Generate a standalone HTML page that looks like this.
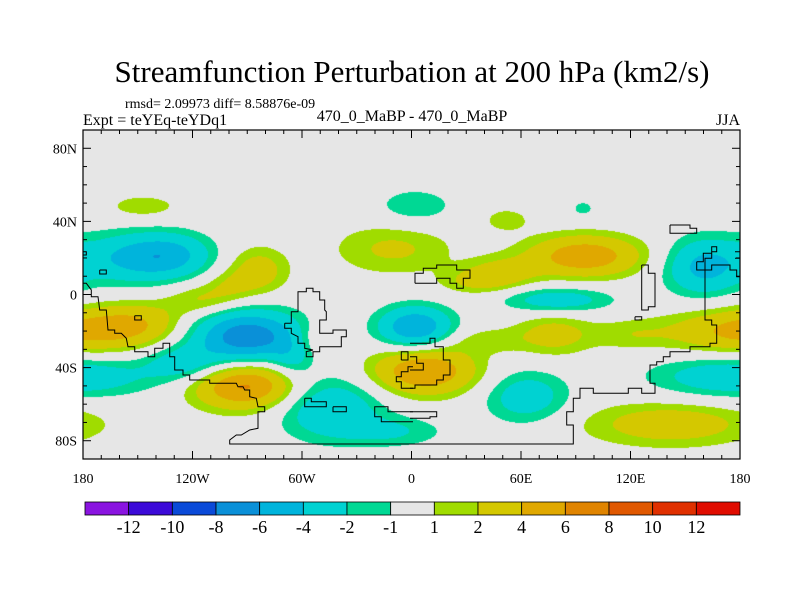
<!DOCTYPE html>
<html><head><meta charset="utf-8"><style>
html,body{margin:0;padding:0;background:#fff;width:800px;height:600px;overflow:hidden}
#wrap{position:relative;width:800px;height:600px}
canvas{position:absolute;left:83px;top:130px}
svg{position:absolute;left:0;top:0}
text{font-family:"Liberation Serif",serif;fill:#000}
</style></head><body><div id="wrap">
<canvas id="field" width="657" height="329"></canvas>
<svg id="svg" width="800" height="600">
<text x="412" y="82" font-size="31" text-anchor="middle">Streamfunction Perturbation at 200 hPa (km2/s)</text>
<text x="125" y="108" font-size="14">rmsd= 2.09973 diff= 8.58876e-09</text>
<text x="83" y="125" font-size="16">Expt = teYEq-teYDq1</text>
<text x="412" y="121" font-size="16" text-anchor="middle">470_0_MaBP - 470_0_MaBP</text>
<text x="740" y="125" font-size="16" text-anchor="end">JJA</text>
<g id="coast"></g>
<g id="axes"></g>
<g id="cbar"></g>
</svg></div>
<script>
// Contour levels and colors
const levels = [-12,-10,-8,-6,-4,-2,-1,1,2,4,6,8,10,12];
const colors = ['#8a14e0','#3c0ad8','#0a4ad8','#0a90d8','#00b4dc','#00d2d2','#00d894','#e6e6e6','#a0dc00','#d4c800','#e0a800','#e08400','#e05800','#e03000','#e00c00'];
// Anomaly centres: lon, lat, amplitude, lon-width, lat-width
const cLon = [-147,-150,160,-84,-115,180,-90,175,-91,-45,-10,-65,-54,-10,2,2,7,52,94,95,35,80,78,40,63,142,-130,-125,-150,-100,50,120];
const cLat = [48,20,15,13,-3,-20,-23,-45,-50,-62,-75,-35,-25,25,48,-18,-42,41,47,21,7,-3,-22,-25,-56,-71,22,-38,-15,5,12,-22];
const cAmp = [1.6,-4.5,-4.5,3,2.2,4.5,-7.5,-3.5,6.5,-3.8,-2,-2,1.6,2.3,-1.8,-6,6,1.5,-1.3,5.5,2,-3.2,2.8,1.5,-3.2,3.2,-2.5,-3,2.5,1.5,2.5,1.5];
const cSLon = [15.5,22,15,11.5,14,28,21,30,20,20,20,8,9,23,16,14,20,10,6,22,14,21,15,15,16,33,15,15,18,10,14,15];
const cSLat = [5.2,9.7,11,9,6,8.6,10,8,9,12,6,8,7,10,7.5,8,9,5,4,8,5,5,8,5,10,8.5,8,7,8,6,6,6];
const lonTicks = ['180','120W','60W','0','60E','120E','180'];
const latTicks = ['80N','40N','0','40S','80S'];

const X0=83,Y0=130,W=657,H=329;
const xOf = lon => X0 + (lon+180)*W/360;
const yOf = lat => Y0 + (90-lat)*H/180;
function field(lon,lat){
  let v=0;
  for(let i=0;i<cLon.length;i++){
    let d=((lon-cLon[i]+540)%360)-180;
    let e=lat-cLat[i];
    v+=cAmp[i]*Math.exp(-(d*d)/(2*cSLon[i]*cSLon[i])-(e*e)/(2*cSLat[i]*cSLat[i]));
  }
  return v;
}
function colorIdx(v){let k=0;while(k<levels.length&&v>=levels[k])k++;return k;}
function hex(c){return [parseInt(c.substr(1,2),16),parseInt(c.substr(3,2),16),parseInt(c.substr(5,2),16)];}
const rgb=colors.map(hex);
const ctx=document.getElementById('field').getContext('2d');
const img=ctx.createImageData(W,H);
for(let py=0;py<H;py++){
  const lat=90-(py+0.5)*180/H;
  for(let px=0;px<W;px++){
    const lon=-180+(px+0.5)*360/W;
    const c=rgb[colorIdx(field(lon,lat))];
    const o=(py*W+px)*4;
    img.data[o]=c[0];img.data[o+1]=c[1];img.data[o+2]=c[2];img.data[o+3]=255;
  }
}
ctx.putImageData(img,0,0);

const NS='http://www.w3.org/2000/svg';
function mk(tag,attrs,parent){const e=document.createElementNS(NS,tag);for(const k in attrs)e.setAttribute(k,attrs[k]);parent.appendChild(e);return e;}

const coastL=[
 [[0,460],[10,460],[25,480],[25,500],[45,500],[50,540],[70,540],[75,600],[95,600],[95,610],[115,610],[130,625],[135,650],[155,650],[155,665],[195,665],[195,680],[215,680],[215,655],[240,655],[240,640],[260,640],[260,680],[275,680],[275,720],[300,720],[300,735],[320,735],[320,750],[380,750],[380,760],[460,760],[465,770],[480,770],[485,780],[500,780],[500,800],[520,805],[525,830],[545,830],[545,845],[525,845],[525,895],[500,900],[475,915],[460,915],[440,930],[440,942],[990,942]],
 [[605,580],[625,580],[625,545],[645,545],[645,485],[670,485],[670,475],[690,475],[690,485],[710,485],[710,510],[725,510],[725,540],[730,545],[730,570],[710,570],[710,610],[750,610],[750,600],[790,600],[790,620],[775,620],[775,650],[710,650],[710,665],[690,665],[690,680],[670,680],[670,665],[690,660],[665,655],[665,640],[645,640],[645,620],[625,610],[625,595],[605,595],[605,580]],
 [[665,805],[685,805],[685,815],[730,815],[730,830],[665,830],[665,805]],
 [[750,830],[790,830],[790,845],[750,845],[750,830]],
 [[990,845],[915,845],[915,830],[875,830],[875,860],[895,860],[895,875],[990,875]],
 [[955,690],[955,665],[975,665],[975,690],[955,690]],
 [[990,710],[975,710],[975,725],[955,725],[955,740],[940,740],[940,755],[955,755],[955,775],[990,775]],
 [[50,420],[70,420],[70,432],[50,432],[50,420]],
 [[155,557],[175,557],[175,570],[155,570],[155,557]],
 [[0,365],[10,365],[10,375],[0,375]]
];
const coastR=[
 [[0,680],[20,680],[20,700],[40,700],[40,720],[0,720]],
 [[0,640],[60,640],[60,625],[75,625],[75,650],[100,650],[100,690],[120,690],[120,735],[100,735],[100,750],[80,750],[80,765],[15,765],[15,775],[0,775]],
 [[15,460],[15,430],[40,430],[40,415],[80,415],[80,405],[140,405],[140,420],[180,420],[180,445],[160,445],[160,475],[140,475],[140,460],[120,460],[120,445],[80,445],[80,460],[15,460]],
 [[0,845],[80,845],[80,860],[60,860],[60,865],[0,865]],
 [[0,942],[490,942],[490,885],[470,885],[470,845],[490,845],[490,805],[510,805],[510,775],[550,775],[550,790],[655,790],[655,775],[695,775],[695,790],[735,790],[735,760],[720,760],[720,705],[740,705],[740,695],[760,695],[760,680],[780,680],[780,665],[840,665],[840,650],[900,650],[900,640],[920,640],[920,585],[905,585],[905,570],[885,570],[885,420],[905,420],[905,405],[960,405],[960,420],[980,420],[980,440],[990,440]],
 [[695,405],[715,405],[715,430],[735,430],[735,530],[715,530],[715,540],[695,540],[695,405]],
 [[780,285],[840,285],[840,295],[860,295],[860,310],[780,310],[780,285]],
 [[860,395],[880,395],[880,370],[905,370],[905,350],[920,350],[920,365],[905,365],[905,385],[885,385],[885,420],[860,420],[860,395]],
 [[675,560],[695,560],[695,570],[675,570],[675,560]],
 [[975,365],[990,365],[990,385],[975,385]]
];
const cg=document.getElementById('coast');
function drawCoast(list,ox){list.forEach(pl=>{
  const p=mk('polyline',{points:pl.map(q=>(ox+q[0]/3).toFixed(1)+','+(130+q[1]/3).toFixed(1)).join(' '),fill:'none',stroke:'#000','stroke-width':1},cg);
  
  
});}
drawCoast(coastL,83);drawCoast(coastR,410);

const ag=document.getElementById('axes');
const fr=mk('rect',{x:X0,y:Y0,width:W,height:H,fill:'none',stroke:'#000','stroke-width':1.2},ag);


for(let lon=-180;lon<=180;lon+=10){
  const x=xOf(lon),len=(lon%60===0)?8:4;
  mk('line',{x1:x,y1:Y0+H,x2:x,y2:Y0+H-len,stroke:'#000'},ag);
  mk('line',{x1:x,y1:Y0,x2:x,y2:Y0+len,stroke:'#000'},ag);
}
for(let lat=-90;lat<=90;lat+=10){
  const y=yOf(lat),len=(lat%40===0)?8:4;
  mk('line',{x1:X0,y1:y,x2:X0+len,y2:y,stroke:'#000'},ag);
  mk('line',{x1:X0+W,y1:y,x2:X0+W-len,y2:y,stroke:'#000'},ag);
}
lonTicks.forEach((t,i)=>{
  const e=mk('text',{x:xOf(-180+i*60),y:483,'font-size':14,'text-anchor':'middle'},ag);e.textContent=t;
  
  
});
latTicks.forEach((t,i)=>{
  const e=mk('text',{x:77,y:yOf(80-i*40)+5,'font-size':14,'text-anchor':'end'},ag);e.textContent=t;
  
  
});

const cb=document.getElementById('cbar');
const bx=85,bw=(740-85)/colors.length;
colors.forEach((c,i)=>{
  const r=mk('rect',{x:bx+i*bw,y:502,width:bw,height:13,fill:c,stroke:'#000','stroke-width':0.8},cb);
  
  
});
levels.forEach((l,i)=>{
  const e=mk('text',{x:bx+(i+1)*bw,y:533,'font-size':18,'text-anchor':'middle'},cb);e.textContent=String(l);
  
  
});
</script></body></html>
